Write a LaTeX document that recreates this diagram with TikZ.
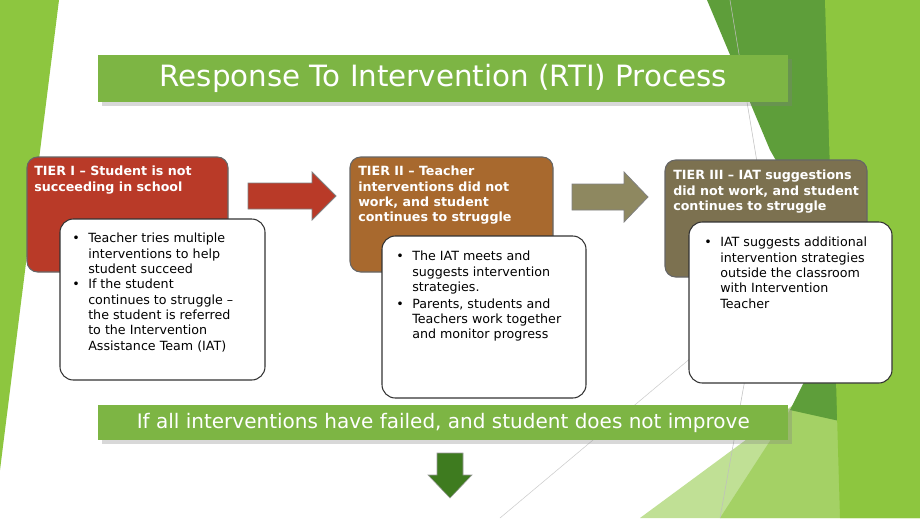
\documentclass[tikz,border=0pt]{standalone}
\usepackage{fontspec}
\setmainfont{DejaVu Sans}
\usetikzlibrary{shapes.arrows,shadows}
\definecolor{lgreen}{HTML}{8DC63F}
\definecolor{dgreen}{HTML}{5E9E3A}
\definecolor{tgreen}{HTML}{7DB544}
\definecolor{redc}{HTML}{B93A28}
\definecolor{brownc}{HTML}{A8692E}
\definecolor{olivec}{HTML}{7C7150}
\definecolor{arrowolive}{HTML}{8E8860}
\definecolor{darrow}{HTML}{3E7B1F}
\tikzset{
  hdr/.style={draw=black!60, line width=0.8pt, rounded corners=8pt},
  detail/.style={draw=black!80, line width=0.8pt, fill=white, rounded corners=10pt},
  hdrtext/.style={text=white, font=\bfseries\fontsize{9.5}{11.5}\selectfont, align=left, anchor=north west, inner sep=0pt},
  bodytext/.style={text=black, font=\fontsize{9.5}{11.5}\selectfont, align=left, anchor=north west, inner sep=0pt},
  bar/.style={fill=tgreen, drop shadow={opacity=0.3}},
  rarrow/.style={draw=black!50, line width=0.6pt}
}
\begin{document}
\begin{tikzpicture}[x=0.75pt,y=-0.75pt]
\useasboundingbox (0,0) rectangle (920,518);
\fill[white] (0,0) rectangle (920,518);
% background decorations
\fill[lgreen] (0,0) -- (59,0) -- (0,470) -- cycle;
\fill[lgreen!55!white] (640,518) -- (800,400) -- (920,300) -- (920,518) -- cycle;
\fill[lgreen!80!white] (720,518) -- (790,410) -- (860,290) -- (920,250) -- (920,518) -- cycle;
\fill[dgreen] (707,0) -- (830,0) -- (880,430) -- (790,410) -- (850,290) -- (770,150) -- cycle;
\fill[lgreen] (825,0) -- (920,0) -- (920,518) -- (840,518) -- cycle;
\draw[black!25, line width=0.4pt] (730,0) -- (770,240) -- (720,518);
\draw[black!20, line width=0.4pt] (500,518) -- (760,300);
% title bar
\node[bar, minimum width=690*0.75pt, minimum height=47*0.75pt, anchor=north west, inner sep=0pt] (title) at (98,55) {};
\node[text=white, font=\fontsize{22}{26}\selectfont] (titletext) at (title.center) {Response To Intervention (RTI) Process};
% Tier I
\path[hdr, fill=redc] (27,157) rectangle (228,272);
\node[hdrtext] (t1) at (34,166) {TIER I -- Student is not\\succeeding in school};
\path[detail] (60,219) rectangle (265,380);
\node[bodytext] (d1) at (72,233) {%
\makebox[12pt][l]{•}Teacher tries multiple\\\hspace*{12pt}interventions to help\\\hspace*{12pt}student succeed\\
\makebox[12pt][l]{•}If the student\\\hspace*{12pt}continues to struggle --\\\hspace*{12pt}the student is referred\\\hspace*{12pt}to the Intervention\\\hspace*{12pt}Assistance Team (IAT)};
% Arrow 1
\draw[rarrow, fill=redc] (248,183) -- (312,183) -- (312,172) -- (336,196) -- (312,220) -- (312,209) -- (248,209) -- cycle;
% Tier II
\path[hdr, fill=brownc] (350,157) rectangle (553,272);
\node[hdrtext] (t2) at (358,166) {TIER II -- Teacher\\interventions did not\\work, and student\\continues to struggle};
\path[detail] (382,236) rectangle (586,398);
\node[bodytext] (d2) at (396,251) {%
\makebox[12pt][l]{•}The IAT meets and\\\hspace*{12pt}suggests intervention\\\hspace*{12pt}strategies.\\[1pt]
\makebox[12pt][l]{•}Parents, students and\\\hspace*{12pt}Teachers work together\\\hspace*{12pt}and monitor progress};
% Arrow 2
\draw[rarrow, fill=arrowolive] (572,184) -- (624,184) -- (624,172) -- (648,197) -- (624,222) -- (624,210) -- (572,210) -- cycle;
% Tier III
\path[hdr, fill=olivec] (665,160) rectangle (867,277);
\node[hdrtext] (t3) at (673,170) {TIER III -- IAT suggestions\\did not work, and student\\continues to struggle};
\path[detail] (689,222) rectangle (892,383);
\node[bodytext] (d3) at (704,237) {%
\makebox[12pt][l]{•}IAT suggests additional\\\hspace*{12pt}intervention strategies\\\hspace*{12pt}outside the classroom\\\hspace*{12pt}with Intervention\\\hspace*{12pt}Teacher};
% bottom bar
\node[bar, minimum width=690*0.75pt, minimum height=35*0.75pt, anchor=north west, inner sep=0pt] (bottom) at (98,405) {};
\node[text=white, font=\fontsize{15}{18}\selectfont] (bottomtext) at (bottom.center) {If all interventions have failed, and student does not improve};
% down arrow
\draw[draw=black!40, fill=darrow] (437,453) -- (463,453) -- (463,475) -- (472,475) -- (450,498) -- (428,475) -- (437,475) -- cycle;
\end{tikzpicture}
\end{document}
